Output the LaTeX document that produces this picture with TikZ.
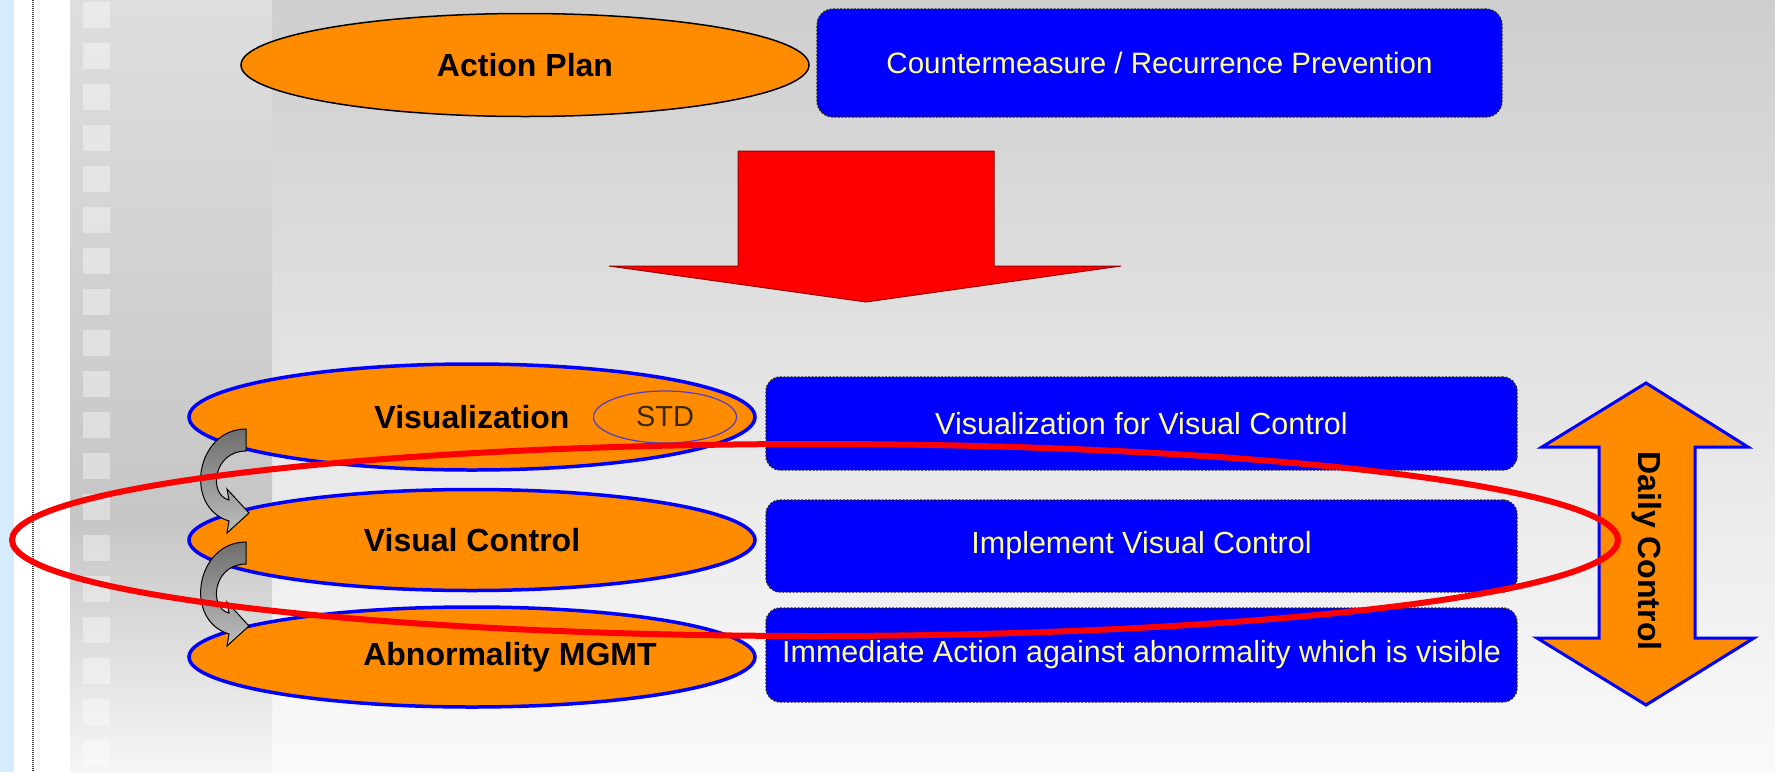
\documentclass[tikz,border=0pt]{standalone}
\usepackage{fontspec}
\setmainfont{Liberation Sans}
\usetikzlibrary{shapes.geometric}
\definecolor{orng}{RGB}{255,140,0}
\definecolor{pureblue}{RGB}{0,0,255}
\definecolor{ytext}{RGB}{255,255,150}
\definecolor{pured}{RGB}{255,0,0}
\definecolor{stripblue}{RGB}{212,236,252}
\definecolor{stdline}{RGB}{80,60,200}
\definecolor{stdtext}{RGB}{60,40,0}
\definecolor{gA}{RGB}{206,206,206}
\definecolor{gB}{RGB}{250,250,250}
\definecolor{bandA}{RGB}{222,222,222}
\definecolor{bandB}{RGB}{198,198,198}
\definecolor{bandC}{RGB}{246,246,246}
\definecolor{arrA}{RGB}{110,110,110}
\definecolor{arrB}{RGB}{190,190,190}
\begin{document}
\begin{tikzpicture}[x=1pt,y=-1pt,
  oval/.style={ellipse, fill=orng, draw=pureblue, line width=3.5pt, inner sep=0pt},
  bluebox/.style={rectangle, rounded corners=14pt, fill=pureblue, draw=black!85, dash pattern=on 2pt off 1.5pt, line width=1.3pt, inner sep=0pt},
  boldtxt/.style={font=\fontsize{32}{36}\selectfont\bfseries, text=black},
  boxtxt/.style={font=\fontsize{30.5}{34}\selectfont, text=ytext},
  grayarrow/.style={top color=arrA, bottom color=arrB, draw=black, line width=1pt},
]
\useasboundingbox (0,0) rectangle (1775,772);
% background
\fill[stripblue] (0,0) rectangle (14,772);
\fill[white] (14,0) rectangle (70,772);
\draw[black!75, line width=2.5pt, dash pattern=on 1pt off 1pt] (33,0) -- (33,772);
\shade[top color=gA, bottom color=gB] (272,0) rectangle (1775,772);
\shade[top color=bandA, bottom color=bandB] (70,0) rectangle (272,520);
\shade[top color=bandB, bottom color=bandC] (70,520) rectangle (272,772);
\foreach \i in {0,...,18} {
  \fill[white, opacity=0.38] (83,{2+41*\i}) rectangle (110,{28+41*\i});
}
% top row
\node[ellipse, fill=orng, draw=black, line width=1.5pt, inner sep=0pt,
      minimum width=568pt, minimum height=103pt, boldtxt] (plan) at (525,65) {Action Plan};
\node[rectangle, rounded corners=16pt, fill=pureblue, draw=black!85, dash pattern=on 2pt off 1.5pt,
      line width=1.2pt, minimum width=685pt, minimum height=108pt, boxtxt,
      font=\fontsize{29.5}{34}\selectfont] (cm) at (1159.5,63) {Countermeasure / Recurrence Prevention};
% red arrow
\filldraw[fill=pured, draw=pured!60!black, line width=1pt]
  (738,151) -- (994,151) -- (994,266) -- (1121,266) -- (866,302) -- (609,266) -- (738,266) -- cycle;
% ellipses
\node[oval, minimum width=566pt, minimum height=106pt, boldtxt] (viz) at (472,417) {Visualization};
\node[oval, minimum width=566pt, minimum height=101pt, boldtxt] (vc) at (472,540) {Visual Control};
\node[oval, minimum width=566pt, minimum height=100pt] (ab) at (472,657) {};
\node[boldtxt] (abt) at (510,657) {Abnormality MGMT};
\node[ellipse, draw=stdline, line width=1.2pt, inner sep=0pt, minimum width=143pt, minimum height=52pt,
      font=\fontsize{29}{32}\selectfont, text=stdtext] (std) at (665,417) {STD};
% blue boxes
\node[bluebox, minimum width=751pt, minimum height=93pt, boxtxt] (b1) at (1141.5,423.5) {Visualization for Visual Control};
\node[bluebox, minimum width=751pt, minimum height=92pt, boxtxt] (b2) at (1141.5,546) {Implement Visual Control};
\node[bluebox, minimum width=751pt, minimum height=94pt, boxtxt] (b3) at (1141.5,655) {Immediate Action against abnormality which is visible};
% gray curved arrows
\foreach \dy in {0,113} {
  \begin{scope}[yshift=-\dy pt]
  \shadedraw[grayarrow]
    (246,429) .. controls (196,429) and (183,507) .. (229,521) -- (227,533) -- (249,513) -- (227,489)
    -- (229,500) .. controls (208,495) and (213,451) .. (246,451) -- cycle;
  \end{scope}
}
% daily control double arrow
\filldraw[fill=orng, draw=pureblue, line width=3pt, line join=miter]
  (1646,383) -- (1748,447) -- (1695,447) -- (1695,638) -- (1754,638) -- (1646,705)
  -- (1537,638) -- (1599,638) -- (1599,447) -- (1542,447) -- cycle;
\node[boldtxt, rotate=-90] (dc) at (1647,551) {Daily Control};
% red highlight ellipse
\draw[pured, line width=6pt] (815,540) ellipse [x radius=803pt, y radius=96pt];
\end{tikzpicture}
\end{document}
